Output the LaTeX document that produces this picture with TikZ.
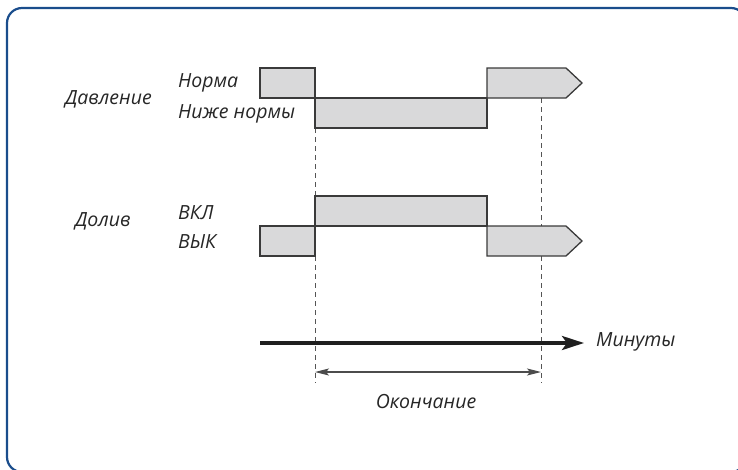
\documentclass[tikz,border=0pt]{standalone}
\usepackage{fontspec}
\setmainfont{Open Sans}
\usetikzlibrary{arrows.meta}
\definecolor{frameblue}{HTML}{1A4D8C}
\definecolor{boxfill}{HTML}{D9D9DA}
\definecolor{boxline}{HTML}{3A3A3A}
\definecolor{dashgray}{HTML}{555555}
\tikzset{
  sig/.style={draw=boxline, fill=boxfill, line width=1.3pt, line join=miter},
  guide/.style={draw=dashgray, line width=0.9pt, dash pattern=on 5pt off 4pt},
  lbl/.style={font=\fontsize{19.5}{23}\selectfont\itshape, text=black!85, inner sep=0pt},
  axis/.style={draw=black!88, line width=3.6pt, -{Stealth[length=22pt,width=14pt,inset=5pt]}},
  span/.style={draw=black!70, line width=1.1pt, {Stealth[length=14pt,width=7pt,inset=3pt]}-{Stealth[length=14pt,width=7pt,inset=3pt]}}
}
\begin{document}
\begin{tikzpicture}[x=1pt,y=-1pt]
\useasboundingbox (0,0) rectangle (738,469);
\begin{scope}
\clip (0,0) rectangle (738,469);
\draw[frameblue, line width=2.2pt, rounded corners=15pt] (7,8) rectangle (746,472);
\end{scope}
% dashed guides
\draw[guide] (315,128) -- (315,196);
\draw[guide] (315,256) -- (315,383);
\draw[guide] (541,98) -- (541,226);
\draw[guide] (541,256) -- (541,383);
% pressure signal
\path[sig] (260,68) rectangle (315,98);
\path[sig] (315,98) rectangle (487,128);
\path[sig] (487,68) -- (566,68) -- (582,83) -- (566,98) -- (487,98) -- cycle;
% refill signal
\path[sig] (315,196) rectangle (487,226);
\path[sig] (260,226) rectangle (315,256);
\path[sig] (487,226) -- (566,226) -- (582,241) -- (566,256) -- (487,256) -- cycle;
% time axis
\coordinate (axs) at (260,343);
\coordinate (axe) at (584,343);
\draw[axis] (axs) -- (axe);
\coordinate (sps) at (315,372);
\coordinate (spe) at (541,372);
\draw[span] (sps) -- (spe);
% labels
\node[lbl, anchor=west] (pres) at (65,99) {Давление};
\node[lbl, anchor=west] (norm) at (178,83) {Норма};
\node[lbl, anchor=west] (low) at (178,114) {Ниже нормы};
\node[lbl, anchor=west] (ref) at (75,221) {Долив};
\node[lbl, anchor=west] (on) at (178,213) {ВКЛ};
\node[lbl, anchor=west] (off) at (178,242) {ВЫК};
\node[lbl, anchor=west] (min) at (596,342) {Минуты};
\node[lbl] (end) at (426,402) {Окончание};
\end{tikzpicture}
\end{document}
